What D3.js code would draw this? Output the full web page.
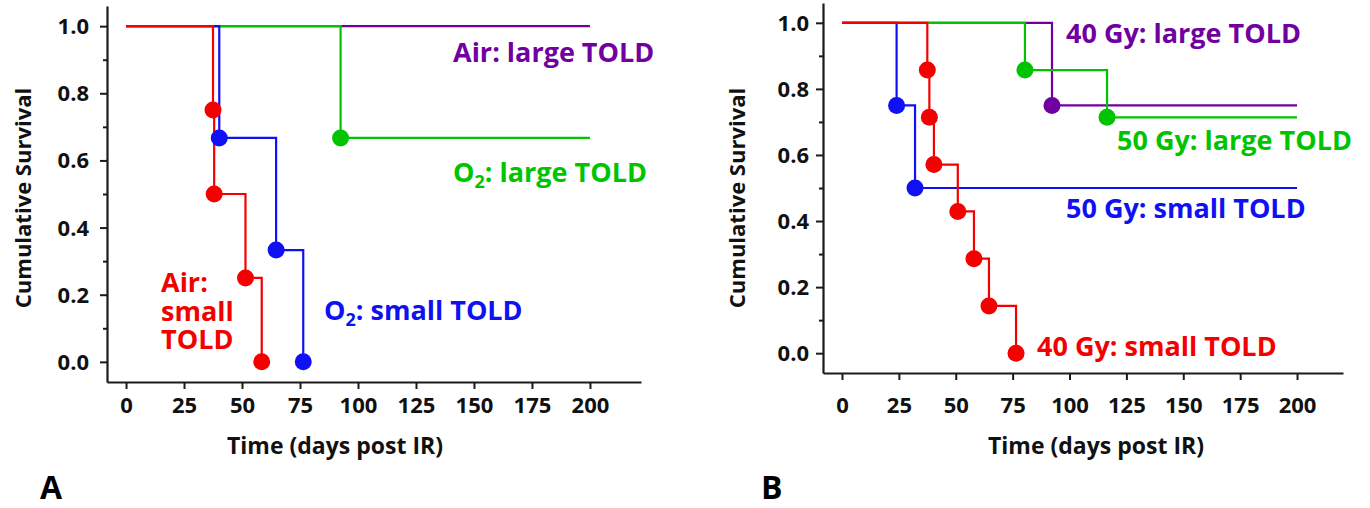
<!DOCTYPE html>
<html>
<head>
<meta charset="utf-8">
<script src="https://cdn.jsdelivr.net/npm/d3@7"></script>
<style>
  html, body { margin: 0; padding: 0; background: #fff; }
  svg { display: block; }
  text { font-family: 'Open Sans', sans-serif; font-weight: 700; }
</style>
</head>
<body>
<svg id="chart" width="1370" height="508"></svg>
<script>
// ---------- DATA ----------
const xTicks = [0, 25, 50, 75, 100, 125, 150, 175, 200];
const yTicks = [0.0, 0.2, 0.4, 0.6, 0.8, 1.0];
const yMinorTicks = [0.1, 0.3, 0.5, 0.7, 0.9];
const xTitle = "Time (days post IR)";
const yTitle = "Cumulative Survival";
const endDay = 200;

// Panel A: [day, survival] steps (first point is the start)
const airLargeA  = [[0, 1.0]];
const o2LargeA   = [[0, 1.0], [92.5, 0.667]];
const airSmallA  = [[0, 1.0], [37.5, 0.75], [38, 0.5], [51.5, 0.25], [58.5, 0.0]];
const o2SmallA   = [[0, 1.0], [40.2, 0.667], [64.7, 0.333], [76.4, 0.0]];

// Panel B
const gy40LargeB = [[0, 1.0], [92.3, 0.75]];
const gy50LargeB = [[0, 1.0], [80.4, 0.857], [116.5, 0.714]];
const gy50SmallB = [[0, 1.0], [24, 0.75], [32.1, 0.5]];
const gy40SmallB = [[0, 1.0], [37.5, 0.857], [38.4, 0.714], [40.4, 0.571], [50.9, 0.429], [58, 0.286], [64.6, 0.143], [76.5, 0.0]];

// ---------- STYLE ----------
const C = { purple: "#7000a0", green: "#00c400", blue: "#1010f4", red: "#f50000", axis: "#1a1a1a" };

const svg = d3.select("#chart");

function panel(cfg) {
  const g = svg.append("g");
  const x = d3.scaleLinear().domain(cfg.xDomain).range(cfg.xRange);
  const y = d3.scaleLinear().domain([-0.06, 1.06]).range(cfg.yRange);
  const x0 = cfg.xRange[0], yBase = cfg.yRange[0];

  // axes
  const yAxis = g.append("g").attr("transform", `translate(${x0},0)`)
    .call(d3.axisLeft(y).tickValues(yTicks).tickFormat(d3.format(".1f")).tickSize(7).tickSizeOuter(0));
  g.append("g").attr("transform", `translate(${x0},0)`)
    .call(d3.axisLeft(y).tickValues(yMinorTicks).tickFormat("").tickSize(4).tickSizeOuter(0))
    .select(".domain").remove();
  const xAxis = g.append("g").attr("transform", `translate(0,${yBase})`)
    .call(d3.axisBottom(x).tickValues(xTicks).tickSize(7).tickSizeOuter(0));

  g.selectAll(".domain").attr("stroke", C.axis).attr("stroke-width", 2.2);
  g.selectAll(".tick line").attr("stroke", C.axis).attr("stroke-width", 2);
  yAxis.selectAll("text").attr("x", cfg.yLabelDx).attr("dy", "0.34em")
    .attr("font-size", 22).attr("fill", "#111").attr("font-family", "'Open Sans', sans-serif").attr("font-weight", 700);
  xAxis.selectAll("text").attr("y", 412.5 - yBase).attr("dy", 0)
    .attr("font-size", 22).attr("fill", "#111").attr("font-family", "'Open Sans', sans-serif").attr("font-weight", 700);

  // titles
  g.append("text").attr("x", cfg.xTitleX).attr("y", 454).attr("text-anchor", "middle")
    .attr("font-size", 23).attr("fill", "#111").text(xTitle);
  g.append("text").attr("transform", `translate(${cfg.yTitleX},198) rotate(-90)`).attr("text-anchor", "middle")
    .attr("font-size", 22).attr("fill", "#111").text(yTitle);
  g.append("text").attr("x", cfg.letterX).attr("y", 499).attr("font-size", 32).attr("fill", "#000").text(cfg.letter);

  // curves
  const line = d3.line().x(d => x(d[0])).y(d => y(d[1])).curve(d3.curveStepAfter);
  cfg.series.forEach(s => {
    const last = s.data[s.data.length - 1];
    const pts = s.toEnd ? s.data.concat([[endDay, last[1]]]) : s.data;
    g.append("path").attr("d", line(pts)).attr("fill", "none")
      .attr("stroke", s.color).attr("stroke-width", 2.2);
  });
  cfg.series.forEach(s => {
    g.selectAll(null).data(s.data.slice(1)).join("circle")
      .attr("cx", d => x(d[0])).attr("cy", d => y(d[1])).attr("r", 8.5).attr("fill", s.color);
  });

  // labels
  cfg.labels.forEach(l => {
    l.lines.forEach((ln, i) => {
      const t = g.append("text").attr("x", l.x).attr("y", l.y + i * (l.lh || 0))
        .attr("font-size", 27).attr("fill", l.color);
      if (typeof ln === "object") {
        t.append("tspan").text(ln.pre);
        t.append("tspan").attr("font-size", 18).attr("dy", 6).text(ln.sub);
        t.append("tspan").attr("dy", -6).text(ln.post);
      } else {
        t.text(ln);
      }
    });
  });
}

panel({
  xDomain: [-8.2, 222], xRange: [107, 641], yRange: [382, 6],
  yLabelDx: -18, xTitleX: 335, yTitleX: 31, letter: "A", letterX: 40,
  series: [
    { data: airLargeA, color: C.purple, toEnd: true },
    { data: o2LargeA, color: C.green, toEnd: true },
    { data: o2SmallA, color: C.blue, toEnd: false },
    { data: airSmallA, color: C.red, toEnd: false }
  ],
  labels: [
    { x: 453, y: 62, color: C.purple, lines: ["Air: large TOLD"] },
    { x: 453, y: 182, color: C.green, lines: [{ pre: "O", sub: "2", post: ": large TOLD" }] },
    { x: 324, y: 320, color: C.blue, lines: [{ pre: "O", sub: "2", post: ": small TOLD" }] },
    { x: 161, y: 292, color: C.red, lh: 28.5, lines: ["Air:", "small", "TOLD"] }
  ]
});

panel({
  xDomain: [-8.35, 220.2], xRange: [823, 1343], yRange: [373, 3],
  yLabelDx: -14, xTitleX: 1096, yTitleX: 745, letter: "B", letterX: 761,
  series: [
    { data: gy40LargeB, color: C.purple, toEnd: true },
    { data: gy50LargeB, color: C.green, toEnd: true },
    { data: gy50SmallB, color: C.blue, toEnd: true },
    { data: gy40SmallB, color: C.red, toEnd: false }
  ],
  labels: [
    { x: 1066, y: 43, color: C.purple, lines: ["40 Gy: large TOLD"] },
    { x: 1117, y: 150, color: C.green, lines: ["50 Gy: large TOLD"] },
    { x: 1066, y: 218, color: C.blue, lines: ["50 Gy: small TOLD"] },
    { x: 1037, y: 356, color: C.red, lines: ["40 Gy: small TOLD"] }
  ]
});
</script>
</body>
</html>
